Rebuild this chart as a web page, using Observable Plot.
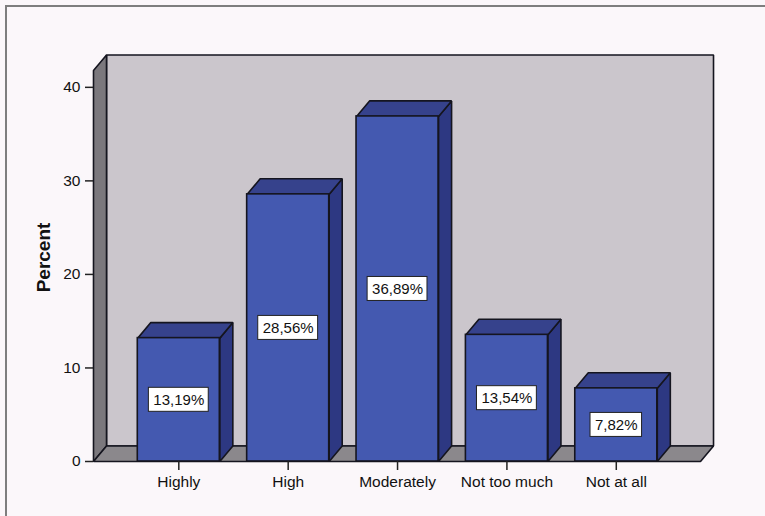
<!DOCTYPE html>
<html><head><meta charset="utf-8">
<script src="https://cdn.jsdelivr.net/npm/d3@7"></script>
<script src="https://cdn.jsdelivr.net/npm/@observablehq/plot@0.6"></script>
<style>
html,body{margin:0;padding:0;background:#fbf7fa;}
#wrap{position:relative;width:765px;height:516px;overflow:hidden;}
#frame{position:absolute;left:5px;top:5px;width:900px;height:700px;border:2px solid #7e7e7e;}
#chart{position:absolute;left:0;top:0;}
</style></head><body>
<div id="wrap"><div id="frame"></div><div id="chart"></div></div>
<script>
const categories = ["Highly", "High", "Moderately", "Not too much", "Not at all"];
const percents = [13.19, 28.56, 36.89, 13.54, 7.82];
const yTicks = [0, 10, 20, 30, 40];
const valueLabels = percents.map(v => v.toFixed(2).replace(".", ",") + "%");

// geometry (style constants)
const X_DOMAIN = [-0.78, 4.77];
const Y_DOMAIN = [0, 41.8];
const HALF = 0.375;           // half bar width (category units)
const DX = 0.119, DY = 1.66;  // 3D depth in data units

const OUT = "#15151f";
const data = categories.map((c, i) => ({i, c, v: percents[i], label: valueLabels[i]}));

const x0 = X_DOMAIN[0], x1 = X_DOMAIN[1], yTop = Y_DOMAIN[1];
const backWall = [[x0 + DX, DY], [x1 + DX, DY], [x1 + DX, yTop + DY], [x0 + DX, yTop + DY]].map(([x, y]) => ({id: "back", x, y}));
const leftWall = [[x0, 0], [x0, yTop], [x0 + DX, yTop + DY], [x0 + DX, DY]].map(([x, y]) => ({id: "left", x, y}));
const floor = [[x0, 0], [x1, 0], [x1 + DX, DY], [x0 + DX, DY]].map(([x, y]) => ({id: "floor", x, y}));

const tops = data.flatMap(d => [[d.i - HALF, d.v], [d.i + HALF, d.v], [d.i + HALF + DX, d.v + DY], [d.i - HALF + DX, d.v + DY]].map(([x, y]) => ({id: d.c, x, y})));
const sides = data.flatMap(d => [[d.i + HALF, 0], [d.i + HALF, d.v], [d.i + HALF + DX, d.v + DY], [d.i + HALF + DX, DY]].map(([x, y]) => ({id: d.c, x, y})));

const ctx = document.createElement("canvas").getContext("2d");
ctx.font = "15px 'Liberation Sans', Arial, sans-serif";
const boxW = data.map(d => ctx.measureText(d.label).width + 9);

const poly = (arr, fill) => Plot.line(arr, {x: "x", y: "y", z: "id", fill, stroke: OUT, strokeWidth: 1.6, curve: "linear-closed", strokeLinejoin: "miter"});

const plot = Plot.plot({
  width: 765, height: 516,
  marginLeft: 93, marginRight: 65, marginTop: 70, marginBottom: 55,
  style: {fontFamily: "'Liberation Sans', Arial, sans-serif", fontSize: "15px", background: "transparent", color: "#1a1a1a"},
  x: {domain: X_DOMAIN},
  y: {domain: Y_DOMAIN},
  marks: [
    poly(backWall, "#cbc6cc"),
    poly(leftWall, "#7b787d"),
    poly(floor, "#8b888c"),
    poly(sides, "#2d3882"),
    poly(tops, "#36428c"),
    Plot.rect(data, {x1: d => d.i - HALF, x2: d => d.i + HALF, y1: 0, y2: "v", fill: "#4459b0", stroke: OUT, strokeWidth: 1.6}),
    ...data.map((d, k) => Plot.rect([d], {x1: "i", x2: "i", y1: e => e.v / 2, y2: e => e.v / 2,
      insetLeft: -boxW[k] / 2, insetRight: -boxW[k] / 2, insetTop: -12, insetBottom: -12,
      fill: "white", stroke: "#222", strokeWidth: 1})),
    Plot.text(data, {x: "i", y: d => d.v / 2, text: "label", fontSize: 15, fill: "#111"}),
    Plot.axisY(yTicks, {anchor: "left", tickSize: 8, tickPadding: 5, fontSize: 15.5, label: null, stroke: "#222", strokeWidth: 1.5, fill: "#111"}),
    Plot.axisX([0, 1, 2, 3, 4], {anchor: "bottom", tickSize: 9, tickPadding: 5, fontSize: 15.5, label: null, tickFormat: i => categories[i], stroke: "#222", strokeWidth: 1.5, fill: "#111"}),
    Plot.text(["Percent"], {frameAnchor: "left", textAnchor: "middle", rotate: -90, dx: -50, dy: -8.5, fontSize: 19, fontWeight: "bold", fill: "#111"})
  ]
});
document.getElementById("chart").appendChild(plot);
</script>
</body></html>
